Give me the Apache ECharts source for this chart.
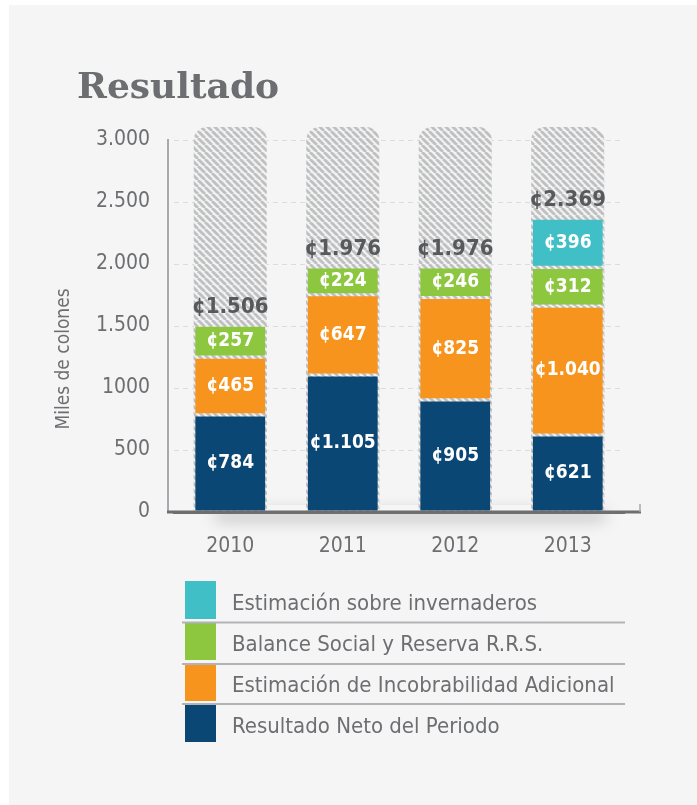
<!DOCTYPE html>
<html>
<head>
<meta charset="utf-8">
<style>
  html, body { margin: 0; padding: 0; background: #ffffff; }
  #main { position: absolute; left: 9px; top: 5px; width: 688px; height: 800px; background: #f5f5f5; }
</style>
<script src="https://cdn.jsdelivr.net/npm/echarts@6/dist/echarts.min.js"></script>
</head>
<body>
<div id="main"></div>
<script>
"use strict";

// data
var years = ["2010", "2011", "2012", "2013"];
var netResult = [784, 1105, 905, 621];
var badDebt = [465, 647, 825, 1040];
var socialBalance = [257, 224, 246, 312];
var greenhouse = ["-", "-", "-", 396];
var yTickLabels = ["0", "500", "1000", "1.500", "2.000", "2.500", "3.000"];

var seriesNames = [
  "Resultado Neto del Periodo",
  "Estimación de Incobrabilidad Adicional",
  "Balance Social y Reserva R.R.S.",
  "Estimación sobre invernaderos",
];

var totals = years.map(function (y, i) {
  return [netResult, badDebt, socialBalance, greenhouse].reduce(function (s, arr) {
    return s + (typeof arr[i] === "number" ? arr[i] : 0);
  }, 0);
});

function colones(v) {
  return "¢" + String(v).replace(/\B(?=(\d{3})+(?!\d))/g, ".");
}

// hatched pattern for the bar tracks
function makeHatch() {
  var c = document.createElement("canvas");
  var s = 7;
  c.width = s;
  c.height = s;
  var ctx = c.getContext("2d");
  ctx.fillStyle = "#f3f3f3";
  ctx.fillRect(0, 0, s, s);
  ctx.strokeStyle = "#bfc0c2";
  ctx.lineWidth = 2.8;
  [-s, 0, s].forEach(function (k) {
    ctx.beginPath();
    ctx.moveTo(k, 0);
    ctx.lineTo(k + s, s);
    ctx.stroke();
  });
  return c;
}
var hatch = { image: makeHatch(), repeat: "repeat" };

var condensed = "'DejaVu Sans Condensed', 'Liberation Sans Narrow', sans-serif";
var grey = "#6d6e71";

var chartDom = document.getElementById("main");
var myChart = echarts.init(chartDom);

// offsets of the chart inside the panel (panel starts at 9,5)
var ox = 9, oy = 5;

function stackSeries(name, data, color, extra) {
  var s = {
    name: name,
    type: "bar",
    stack: "total",
    barWidth: 73,
    data: data,
    itemStyle: { color: color, borderColor: hatch, borderWidth: 1.6 },
    label: {
      show: true,
      position: "inside",
      color: "#ffffff",
      fontFamily: condensed,
      fontWeight: "bold",
      fontSize: 19,
      formatter: function (p) { return colones(p.value); },
    },
    emphasis: { disabled: true },
  };
  if (extra) Object.assign(s, extra);
  return s;
}

var option = {
  animation: false,
  backgroundColor: "#f5f5f5",
  title: {
    text: "Resultado",
    left: 77 - ox,
    top: 71 - oy,
    padding: 0,
    textStyle: {
      fontFamily: "'DejaVu Serif', serif",
      fontWeight: "bold",
      fontSize: 36,
      color: grey,
    },
  },
  grid: {
    left: 174 - ox,
    right: 73,
    top: 127 - oy,
    bottom: 805 - 512,
  },
  xAxis: {
    type: "category",
    data: years,
    axisLine: { show: true, lineStyle: { color: grey, width: 3 } },
    axisTick: { show: false },
    axisLabel: {
      color: grey,
      fontFamily: condensed,
      fontSize: 21,
      margin: 24,
    },
  },
  yAxis: {
    type: "value",
    min: 0,
    max: 3105,
    interval: 500,
    axisLine: { show: false },
    axisTick: { show: false },
    axisLabel: {
      showMaxLabel: false,
      color: grey,
      fontFamily: condensed,
      fontSize: 21,
      margin: 24,
      formatter: function (v) {
        return v % 500 === 0 ? yTickLabels[v / 500] : "";
      },
    },
    splitLine: {
      show: true,
      showMaxLine: false,
      showMinLine: false,
      lineStyle: { color: "#dcdcdc", type: [5, 4], width: 1.2 },
    },
  },
  legend: {
    orient: "vertical",
    left: 185 - ox,
    top: 581 - oy,
    padding: 0,
    itemWidth: 31,
    itemHeight: 38,
    itemGap: 3,
    icon: "rect",
    selectedMode: false,
    itemStyle: { borderWidth: 0 },
    data: [seriesNames[3], seriesNames[2], seriesNames[1], seriesNames[0]],
    formatter: function (name) { return "{t|" + name + "}"; },
    textStyle: {
      color: grey,
      fontFamily: condensed,
      fontSize: 22,
      rich: {
        t: {
          color: grey,
          fontFamily: condensed,
          fontSize: 22,
          padding: [9, 0, 0, 11],
        },
      },
    },
  },
  series: [
    stackSeries(seriesNames[0], netResult, "#0b4775", {
      showBackground: true,
      backgroundStyle: { color: hatch, borderRadius: [13, 13, 0, 0] },
    }),
    stackSeries(seriesNames[1], badDebt, "#f7941d"),
    stackSeries(seriesNames[2], socialBalance, "#8dc63f"),
    stackSeries(seriesNames[3], greenhouse, "#40bfc7"),
    {
      name: "total",
      type: "bar",
      stack: "total",
      barWidth: 73,
      data: totals.map(function () { return 0; }),
      itemStyle: { color: "transparent" },
      label: {
        show: true,
        position: "top",
        distance: 7,
        color: "#58595b",
        fontFamily: condensed,
        fontWeight: "bold",
        fontSize: 22,
        formatter: function (p) { return colones(totals[p.dataIndex]); },
      },
      emphasis: { disabled: true },
    },
  ],
  graphic: [
    {
      type: "rect",
      z: 0,
      shape: { x: 215 - ox, y: 505 - oy, width: 390, height: 6 },
      style: {
        fill: "#f5f5f5",
        shadowColor: "rgba(0,0,0,0.35)",
        shadowBlur: 16,
        shadowOffsetY: 8,
      },
    },
    {
      type: "line",
      z: 10,
      shape: { x1: 168 - ox, y1: 139 - oy, x2: 168 - ox, y2: 512 - oy },
      style: { stroke: "#a7a9ac", lineWidth: 2 },
    },
    {
      type: "line",
      z: 10,
      shape: { x1: 167 - ox, y1: 512 - oy, x2: 641 - ox, y2: 512 - oy },
      style: { stroke: grey, lineWidth: 3 },
    },
    {
      type: "line",
      z: 10,
      shape: { x1: 640 - ox, y1: 504 - oy, x2: 640 - ox, y2: 512 - oy },
      style: { stroke: "#a7a9ac", lineWidth: 1.5 },
    },
    {
      type: "text",
      z: 10,
      x: 64 - ox,
      y: 359 - oy,
      rotation: Math.PI / 2,
      style: {
        text: "Miles de colones",
        fill: grey,
        font: "19px " + condensed,
        align: "center",
        verticalAlign: "middle",
      },
    },
    {
      type: "line",
      z: 10,
      shape: { x1: 182 - ox, y1: 622.5 - oy, x2: 625 - ox, y2: 622.5 - oy },
      style: { stroke: "#b1b3b6", lineWidth: 2 },
    },
    {
      type: "line",
      z: 10,
      shape: { x1: 182 - ox, y1: 664 - oy, x2: 625 - ox, y2: 664 - oy },
      style: { stroke: "#b1b3b6", lineWidth: 2 },
    },
    {
      type: "line",
      z: 10,
      shape: { x1: 182 - ox, y1: 704 - oy, x2: 625 - ox, y2: 704 - oy },
      style: { stroke: "#b1b3b6", lineWidth: 2 },
    },
  ],
};

option && myChart.setOption(option);
</script>
</body>
</html>
